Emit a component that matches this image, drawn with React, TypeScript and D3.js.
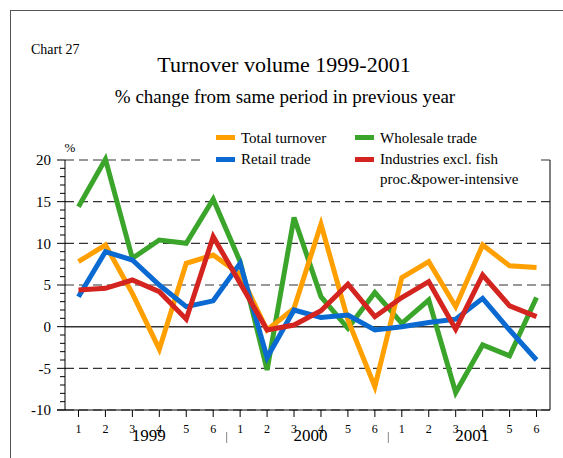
import React from "react";
import * as d3 from "d3";

// % change from same period in previous year, 1999-2001 (bi-monthly periods)
const months = ["1", "2", "3", "4", "5", "6", "1", "2", "3", "4", "5", "6", "1", "2", "3", "4", "5", "6"];
const years = ["1999", "2000", "2001"];
const totalTurnover = [7.8, 9.8, 4.0, -2.7, 7.6, 8.6, 6.3, -0.4, 2.2, 12.3, 0.8, -7.2, 5.9, 7.8, 2.4, 9.8, 7.3, 7.1];
const wholesaleTrade = [14.4, 20.1, 8.2, 10.4, 10.0, 15.3, 7.8, -5.2, 13.1, 3.6, -0.2, 4.1, 0.4, 3.2, -7.9, -2.2, -3.5, 3.5];
const retailTrade = [3.6, 9.0, 8.0, 5.0, 2.4, 3.1, 7.6, -3.7, 2.0, 1.1, 1.4, -0.4, 0.0, 0.5, 0.9, 3.4, -0.4, -4.0];
const industries = [4.4, 4.6, 5.6, 4.2, 0.9, 10.8, 5.2, -0.4, 0.2, 1.9, 5.1, 1.2, 3.5, 5.4, -0.3, 6.2, 2.5, 1.2];
const yTicks = [20, 15, 10, 5, 0, -5, -10];

const series = [
  { name: "Wholesale trade", values: wholesaleTrade, color: "#3aa52a" },
  { name: "Total turnover", values: totalTurnover, color: "#ffa000" },
  { name: "Retail trade", values: retailTrade, color: "#0a6ad2" },
  { name: "Industries", values: industries, color: "#d42420" },
];

const W = 563;
const H = 458;
const font = "'Liberation Serif', 'Times New Roman', serif";

export default function App() {
  const left = 65;
  const right = 550;
  const top = 160;
  const bottom = 410;

  const idx = months.map((_, i) => i);
  const x = d3.scalePoint<number>().domain(idx).range([left, right]).padding(0.5);
  const y = d3.scaleLinear().domain([-10, 20]).range([bottom, top]);
  const step = x.step();

  const line = d3
    .line<number>()
    .x((_, i) => x(i) as number)
    .y((d) => y(d));

  const minor = d3.range(-10, 21, 1);

  return (
    <svg width={W} height={H} style={{ position: "absolute", left: 0, top: 0 }} fontFamily={font}>
      <rect x={0} y={0} width={W} height={H} fill="#fff" />
      <rect x={10.5} y={10.5} width={700} height={600} fill="none" stroke="#555" strokeWidth={1} />

      <text x={31} y={54} fontSize={14}>Chart 27</text>
      <text x={284} y={72} fontSize={22} textAnchor="middle">Turnover volume 1999-2001</text>
      <text x={285} y={103} fontSize={19} textAnchor="middle">% change from same period in previous year</text>

      {/* grid */}
      {yTicks.map((t) =>
        t === 0 ? (
          <line key={t} x1={left} x2={right} y1={y(t)} y2={y(t)} stroke="#333" strokeWidth={1.5} />
        ) : (
          <line key={t} x1={left} x2={right} y1={y(t)} y2={y(t)} stroke="#333" strokeWidth={1.2} strokeDasharray="9,5" />
        )
      )}

      {/* axes frame */}
      <line x1={left} x2={left} y1={top} y2={bottom} stroke="#000" />
      <line x1={left - 8} x2={right} y1={bottom} y2={bottom} stroke="#000" />
      <line x1={right} x2={right} y1={top} y2={bottom} stroke="#000" />
      {minor.map((t) => (
        <line key={t} x1={t % 5 === 0 ? left - 8 : left - 5} x2={left} y1={y(t)} y2={y(t)} stroke="#000" />
      ))}
      {yTicks.map((t) => (
        <text key={t} x={51} y={y(t)} dy="0.35em" fontSize={15} textAnchor="end">{t}</text>
      ))}
      <text x={70} y={152} fontSize={13} textAnchor="middle">%</text>

      {idx.map((i) => (
        <g key={i}>
          <line x1={x(i)} x2={x(i)} y1={bottom} y2={bottom + 7} stroke="#000" />
          <text x={x(i)} y={433} fontSize={12} textAnchor="middle">{months[i]}</text>
        </g>
      ))}
      {[6, 12].map((i) => {
        const sx = ((x(i - 1) as number) + (x(i) as number)) / 2;
        return <line key={i} x1={sx} x2={sx} y1={432} y2={443} stroke="#888" />;
      })}
      {years.map((yr, k) => (
        <text key={yr} x={(x(k * 6 + 2) as number) + step / 2 + 3} y={441} fontSize={17} textAnchor="middle">{yr}</text>
      ))}

      {/* lines */}
      {series.map((s) => (
        <path key={s.name} d={line(s.values) || ""} fill="none" stroke={s.color} strokeWidth={5} strokeLinejoin="miter" />
      ))}

      {/* legend */}
      <rect x={202} y={124} width={335} height={66} fill="#fff" />
      <rect x={216} y={135} width={19} height={5} fill="#ffa000" />
      <text x={241} y={143} fontSize={15}>Total turnover</text>
      <rect x={355} y={135} width={19} height={5} fill="#3aa52a" />
      <text x={380} y={143} fontSize={15}>Wholesale trade</text>
      <rect x={216} y={157} width={19} height={5} fill="#0a6ad2" />
      <text x={241} y={164} fontSize={15}>Retail trade</text>
      <rect x={355} y={157} width={19} height={5} fill="#d42420" />
      <text x={380} y={164} fontSize={15}>Industries excl. fish</text>
      <text x={380} y={184} fontSize={15}>proc.&amp;power-intensive</text>
    </svg>
  );
}
